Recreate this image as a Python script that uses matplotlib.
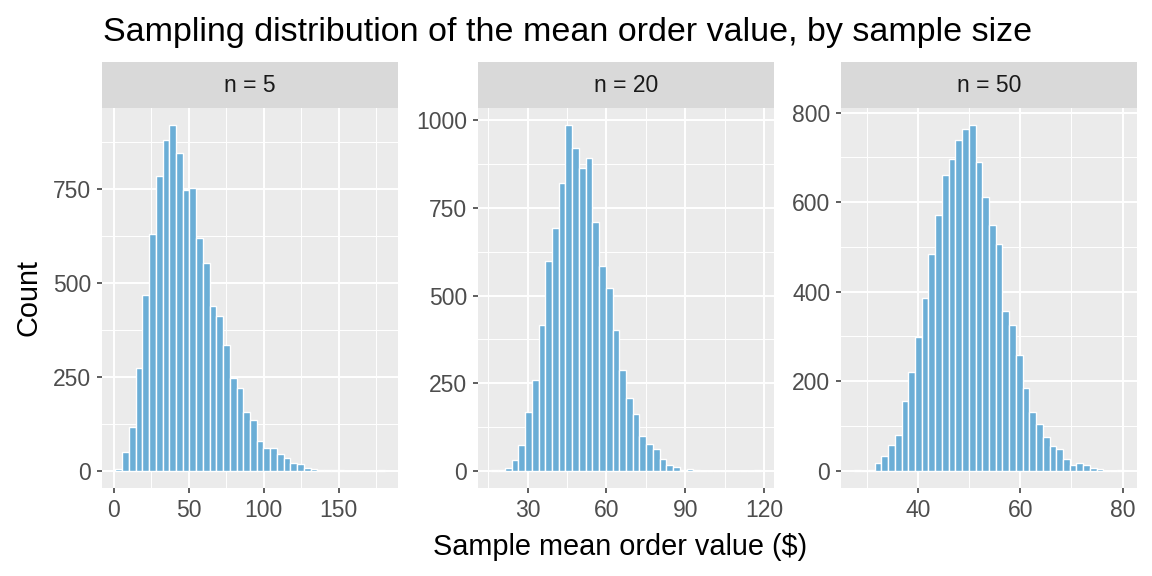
import matplotlib
matplotlib.use("Agg")
import matplotlib.pyplot as plt
from matplotlib.ticker import FixedLocator
import numpy as np

plt.rcParams['font.family'] = ['Liberation Sans', 'DejaVu Sans']

# histogram counts (40 bins per panel)
panel_labels = ["n = 5", "n = 20", "n = 50"]
bin_range_5 = (1.2, 180.6)
counts_5 = [5, 50, 117, 274, 467, 631, 785, 880, 919, 844, 748, 753, 620, 553,
            439, 411, 335, 246, 220, 156, 134, 79, 60, 60, 45, 33, 20, 17, 6, 4,
            1, 2, 1, 1, 0, 0, 0, 0, 0, 1]
bin_range_20 = (16.26, 118.7)
counts_20 = [1, 1, 7, 31, 74, 168, 259, 415, 598, 694, 821, 986, 920, 863, 892,
             709, 585, 521, 402, 288, 208, 163, 99, 75, 63, 33, 16, 10, 2, 5, 3,
             0, 0, 0, 0, 0, 0, 0, 0, 1]
bin_range_50 = (27.5, 80.2)
counts_50 = [2, 0, 1, 18, 33, 58, 80, 156, 220, 298, 385, 484, 571, 660, 697, 738,
             764, 772, 690, 611, 549, 507, 357, 325, 258, 185, 131, 104, 76, 56,
             48, 26, 12, 17, 13, 5, 4, 0, 0, 1]

x_major = [[0, 50, 100, 150], [30, 60, 90, 120], [40, 60, 80]]
x_minor = [[25, 75, 125, 175], [15, 45, 75, 105], [30, 50, 70]]
y_major = [[0, 250, 500, 750], [0, 250, 500, 750, 1000], [0, 200, 400, 600, 800]]
y_minor = [[125, 375, 625, 875], [125, 375, 625, 875], [100, 300, 500, 700]]

panels = [(bin_range_5, counts_5), (bin_range_20, counts_20), (bin_range_50, counts_50)]

W, H = 1152, 576
fig = plt.figure(figsize=(W / 100, H / 100), dpi=100)

lefts = [102, 478, 841]
pw = 296
top, bottom, strip_top = 108, 488, 62

for i, ((lo, hi), counts) in enumerate(panels):
    ax = fig.add_axes([lefts[i] / W, 1 - bottom / H, pw / W, (bottom - top) / H])
    ax.set_facecolor('#EBEBEB')
    edges = np.linspace(lo, hi, len(counts) + 1)
    ax.bar(edges[:-1], counts, width=np.diff(edges), align='edge',
           color='#6BAED6', edgecolor='white', linewidth=1.0, zorder=3)
    span = hi - lo
    ax.set_xlim(lo - 0.05 * span, hi + 0.05 * span)
    ymax = max(counts)
    ax.set_ylim(-0.05 * ymax, 1.05 * ymax)

    ax.xaxis.set_major_locator(FixedLocator(x_major[i]))
    ax.xaxis.set_minor_locator(FixedLocator(x_minor[i]))
    ax.yaxis.set_major_locator(FixedLocator(y_major[i]))
    ax.yaxis.set_minor_locator(FixedLocator(y_minor[i]))
    ax.grid(which='major', color='white', linewidth=1.4, zorder=1)
    ax.grid(which='minor', color='white', linewidth=0.7, zorder=1)
    ax.set_axisbelow(True)
    for s in ax.spines.values():
        s.set_visible(False)
    ax.tick_params(which='major', length=3.8, width=1.1, color='#333333',
                   labelcolor='#4D4D4D', labelsize=16.5, pad=4)
    ax.tick_params(which='minor', length=0)

    # facet strip
    sax = fig.add_axes([lefts[i] / W, 1 - top / H, pw / W, (top - strip_top) / H])
    sax.set_facecolor('#D9D9D9')
    sax.set_xticks([])
    sax.set_yticks([])
    for s in sax.spines.values():
        s.set_visible(False)
    sax.text(0.5, 0.5, panel_labels[i], ha='center', va='center',
             fontsize=16.5, color='#1A1A1A', transform=sax.transAxes)

fig.text(103 / W, 1 - 41 / H, "Sampling distribution of the mean order value, by sample size",
         ha='left', va='baseline', fontsize=24.5, color='black')
fig.text(620 / W, 1 - 555 / H, "Sample mean order value ($)", ha='center',
         va='baseline', fontsize=20.8, color='black')
fig.text(28 / W, 1 - 298 / H, "Count", ha='center', va='center', rotation=90,
         fontsize=20.8, color='black')

fig.savefig("out.png", dpi=100, facecolor='white')
